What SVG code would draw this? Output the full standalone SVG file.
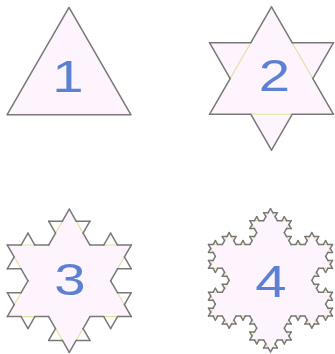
<svg xmlns="http://www.w3.org/2000/svg" width="335" height="354" viewBox="0 0 335 354">
<style>
.fill{fill:#fdf4fd;stroke:none}
.yel{fill:none;stroke:#e4de98;stroke-width:1.1;stroke-linecap:round}
.line{fill:none;stroke:#787878;stroke-width:1.5;stroke-linecap:round;stroke-linejoin:round}
.num{font-family:"Liberation Sans",Arial,sans-serif;font-size:44px;fill:#5b80d4;text-anchor:middle}
</style>
<defs>
<path id="k0" d="M0 0H1" vector-effect="non-scaling-stroke"/>
<g id="k1">
<use href="#k0" transform="scale(0.333333)"/>
<use href="#k0" transform="translate(0.333333 0) rotate(-60) scale(0.333333)"/>
<use href="#k0" transform="translate(0.5 -0.288675) rotate(60) scale(0.333333)"/>
<use href="#k0" transform="translate(0.666667 0) scale(0.333333)"/>
</g>
<g id="k2">
<use href="#k1" transform="scale(0.333333)"/>
<use href="#k1" transform="translate(0.333333 0) rotate(-60) scale(0.333333)"/>
<use href="#k1" transform="translate(0.5 -0.288675) rotate(60) scale(0.333333)"/>
<use href="#k1" transform="translate(0.666667 0) scale(0.333333)"/>
</g>
<g id="k3">
<use href="#k2" transform="scale(0.333333)"/>
<use href="#k2" transform="translate(0.333333 0) rotate(-60) scale(0.333333)"/>
<use href="#k2" transform="translate(0.5 -0.288675) rotate(60) scale(0.333333)"/>
<use href="#k2" transform="translate(0.666667 0) scale(0.333333)"/>
</g>
<path id="y1" d="M0.333333 0H0.666667" vector-effect="non-scaling-stroke"/>
<g id="y2">
<use href="#y1" transform="scale(0.333333)"/>
<use href="#y1" transform="translate(0.333333 0) rotate(-60) scale(0.333333)"/>
<use href="#y1" transform="translate(0.5 -0.288675) rotate(60) scale(0.333333)"/>
<use href="#y1" transform="translate(0.666667 0) scale(0.333333)"/>
</g>
<g id="y3">
<use href="#y2" transform="scale(0.333333)"/>
<use href="#y2" transform="translate(0.333333 0) rotate(-60) scale(0.333333)"/>
<use href="#y2" transform="translate(0.5 -0.288675) rotate(60) scale(0.333333)"/>
<use href="#y2" transform="translate(0.666667 0) scale(0.333333)"/>
</g>
<path id="b" d="M0.333333 0L0.5 -0.288675L0.666667 0Z"/>
<g id="f2">
<use href="#b"/>
<use href="#b" transform="scale(0.333333)"/>
<use href="#b" transform="translate(0.333333 0) rotate(-60) scale(0.333333)"/>
<use href="#b" transform="translate(0.5 -0.288675) rotate(60) scale(0.333333)"/>
<use href="#b" transform="translate(0.666667 0) scale(0.333333)"/>
</g>
<polygon id="tri" points="0,-71.59 62,35.8 -62,35.8"/>
<g id="shape2">
<use href="#tri"/>
<use href="#b" transform="translate(0 -71.59) rotate(60) scale(124)"/>
<use href="#b" transform="translate(62 35.8) rotate(180) scale(124)"/>
<use href="#b" transform="translate(-62 35.8) rotate(-60) scale(124)"/>
</g>
<g id="shape3">
<use href="#tri"/>
<use href="#f2" transform="translate(0 -71.59) rotate(60) scale(124)"/>
<use href="#f2" transform="translate(62 35.8) rotate(180) scale(124)"/>
<use href="#f2" transform="translate(-62 35.8) rotate(-60) scale(124)"/>
</g>
<g id="yl2">
<use href="#y1" transform="translate(0 -71.59) rotate(60) scale(124)"/>
<use href="#y1" transform="translate(62 35.8) rotate(180) scale(124)"/>
<use href="#y1" transform="translate(-62 35.8) rotate(-60) scale(124)"/>
</g>
<g id="yl3">
<use href="#y2" transform="translate(0 -71.59) rotate(60) scale(124)"/>
<use href="#y2" transform="translate(62 35.8) rotate(180) scale(124)"/>
<use href="#y2" transform="translate(-62 35.8) rotate(-60) scale(124)"/>
</g>
<g id="yl4">
<use href="#y3" transform="translate(0 -71.59) rotate(60) scale(124)"/>
<use href="#y3" transform="translate(62 35.8) rotate(180) scale(124)"/>
<use href="#y3" transform="translate(-62 35.8) rotate(-60) scale(124)"/>
</g>
<g id="out2">
<use href="#k1" transform="translate(0 -71.59) rotate(60) scale(124)"/>
<use href="#k1" transform="translate(62 35.8) rotate(180) scale(124)"/>
<use href="#k1" transform="translate(-62 35.8) rotate(-60) scale(124)"/>
</g>
<g id="out3">
<use href="#k2" transform="translate(0 -71.59) rotate(60) scale(124)"/>
<use href="#k2" transform="translate(62 35.8) rotate(180) scale(124)"/>
<use href="#k2" transform="translate(-62 35.8) rotate(-60) scale(124)"/>
</g>
<g id="out4">
<use href="#k3" transform="translate(0 -71.59) rotate(60) scale(124)"/>
<use href="#k3" transform="translate(62 35.8) rotate(180) scale(124)"/>
<use href="#k3" transform="translate(-62 35.8) rotate(-60) scale(124)"/>
</g>
</defs>
<g id="connectors"></g>
<g id="node-1" transform="translate(69 79)">
<use href="#tri" class="fill"/>
<use href="#tri" class="line"/>
<text class="num" transform="translate(-1 13) scale(1.28 1)">1</text>
</g>
<g id="node-2" transform="translate(271.5 78.5)">
<use href="#shape2" class="fill"/>
<use href="#yl2" class="yel"/>
<use href="#out2" class="line"/>
<text class="num" transform="translate(3 12.2) scale(1.28 1)">2</text>
</g>
<g id="node-3" transform="translate(69.3 280.8)">
<use href="#shape2" class="fill"/>
<use href="#yl3" class="yel"/>
<use href="#out3" class="line"/>
<text class="num" transform="translate(0.7 14.2) scale(1.28 1)">3</text>
</g>
<g id="node-4" transform="translate(270.5 280.3)">
<use href="#shape3" class="fill"/>
<use href="#yl4" class="yel"/>
<use href="#out4" class="line"/>
<text class="num" transform="translate(0.5 16.4) scale(1.28 1)">4</text>
</g>
</svg>
